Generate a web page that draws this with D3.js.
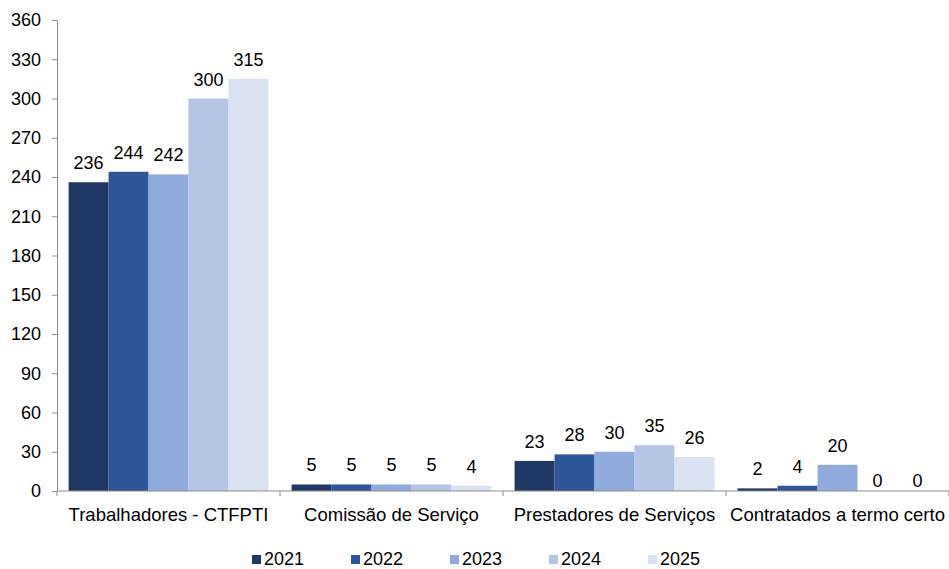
<!DOCTYPE html>
<html>
<head>
<meta charset="utf-8">
<script src="https://cdn.jsdelivr.net/npm/d3@7"></script>
<style>
  body { margin: 0; background: #fff; }
  svg text { font-family: "Liberation Sans", Arial, sans-serif; fill: #000; }
</style>
</head>
<body>
<svg id="chart"></svg>
<script>
// chart data
var categories = ["Trabalhadores - CTFPTI", "Comissão de Serviço", "Prestadores de Serviços", "Contratados a termo certo"];
var years = ["2021", "2022", "2023", "2024", "2025"];
var values2021 = [236, 5, 23, 2];
var values2022 = [244, 5, 28, 4];
var values2023 = [242, 5, 30, 20];
var values2024 = [300, 5, 35, 0];
var values2025 = [315, 4, 26, 0];
var yTicks = [0, 30, 60, 90, 120, 150, 180, 210, 240, 270, 300, 330, 360];

var series = [values2021, values2022, values2023, values2024, values2025];
var colors = ["#1f3864", "#2d5597", "#8eabdb", "#b4c4e4", "#d9e1f2"];

var width = 949, height = 569;
var m = { left: 57, right: 949, top: 20, bottom: 491 };

var svg = d3.select("#chart").attr("width", width).attr("height", height);

var x = d3.scaleBand().domain(categories).range([m.left, m.right]);
var xInner = d3.scaleBand().domain(years).range([0, x.bandwidth()]).paddingOuter(0.29).paddingInner(0);
var y = d3.scaleLinear().domain([0, 360]).range([m.bottom, m.top]);

// y axis
var yAxis = svg.append("g")
    .attr("transform", "translate(" + m.left + ",0)")
    .call(d3.axisLeft(y).tickValues(yTicks).tickSize(5).tickPadding(11));
yAxis.selectAll("path, line").attr("stroke", "#8c8c8c");
yAxis.selectAll("text").style("font-size", "18px").attr("fill", "#000");

// bars
var rows = categories.map(function (c, i) {
    return { cat: c, vals: years.map(function (yr, j) { return { year: yr, v: series[j][i], k: j }; }) };
});

var groups = svg.selectAll("g.grp")
    .data(rows)
    .enter().append("g")
    .attr("class", "grp")
    .attr("transform", function (d) { return "translate(" + x(d.cat) + ",0)"; });

groups.selectAll("rect")
    .data(function (d) { return d.vals; })
    .enter().append("rect")
    .attr("x", function (d) { return xInner(d.year); })
    .attr("width", xInner.bandwidth())
    .attr("y", function (d) { return y(d.v); })
    .attr("height", function (d) { return y(0) - y(d.v); })
    .attr("fill", function (d) { return colors[d.k]; });

groups.selectAll("text.val")
    .data(function (d) { return d.vals; })
    .enter().append("text")
    .attr("class", "val")
    .attr("x", function (d) { return xInner(d.year) + xInner.bandwidth() / 2; })
    .attr("y", function (d) { return d.v === 0 ? y(0) - 4 : y(d.v) - 13; })
    .attr("text-anchor", "middle")
    .style("font-size", "18px")
    .text(function (d) { return d.v; });

// x axis
var xAxis = svg.append("g").attr("transform", "translate(0," + m.bottom + ")");
xAxis.append("line").attr("x1", m.left).attr("x2", m.right).attr("stroke", "#8c8c8c");
xAxis.selectAll("line.tk")
    .data(categories.map(function (c) { return x(c); }).concat([m.right]))
    .enter().append("line")
    .attr("class", "tk")
    .attr("x1", function (d) { return d; }).attr("x2", function (d) { return d; })
    .attr("y1", 0).attr("y2", 5)
    .attr("stroke", "#8c8c8c");
xAxis.selectAll("text")
    .data(categories)
    .enter().append("text")
    .attr("x", function (d) { return x(d) + x.bandwidth() / 2; })
    .attr("y", 30)
    .attr("text-anchor", "middle")
    .style("font-size", "18.5px")
    .text(function (d) { return d; });

// legend
var legend = svg.append("g").attr("transform", "translate(252,555)");
var item = legend.selectAll("g")
    .data(years)
    .enter().append("g")
    .attr("transform", function (d, i) { return "translate(" + (i * 99) + ",0)"; });
item.append("rect")
    .attr("width", 9).attr("height", 9).attr("y", 0)
    .attr("fill", function (d, i) { return colors[i]; });
item.append("text")
    .attr("x", 12).attr("y", 10)
    .style("font-size", "18px")
    .text(function (d) { return d; });
</script>
</body>
</html>
